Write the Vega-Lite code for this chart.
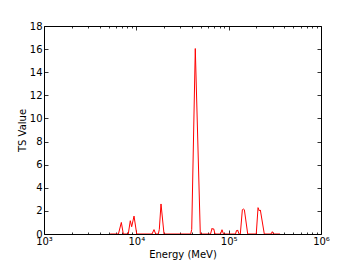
{
  "$schema": "https://vega.github.io/schema/vega-lite/v6.json",
  "width": 277,
  "height": 208,
  "autosize": {"type": "none"},
  "padding": {"left": 44, "top": 26, "right": 36, "bottom": 34},
  "background": "white",
  "config": {
    "view": {"stroke": "black", "strokeWidth": 1},
    "axis": {
      "labelFont": "DejaVu Sans",
      "labelFontSize": 10,
      "labelColor": "black",
      "titleFont": "DejaVu Sans",
      "titleFontSize": 10,
      "titleFontWeight": "normal",
      "titleColor": "black",
      "tickColor": "black",
      "tickWidth": 0.8,
      "domain": false,
      "grid": false
    }
  },
  "data": {
    "values": [
      {"energy": 5200, "ts": 0},
      {"energy": 6400, "ts": 0},
      {"energy": 6880, "ts": 1.0},
      {"energy": 7230, "ts": 0},
      {"energy": 8180, "ts": 0},
      {"energy": 8600, "ts": 1.15},
      {"energy": 8900, "ts": 0.63},
      {"energy": 9440, "ts": 1.55},
      {"energy": 10100, "ts": 0},
      {"energy": 14790, "ts": 0},
      {"energy": 15540, "ts": 0.38},
      {"energy": 16200, "ts": 0},
      {"energy": 17300, "ts": 0},
      {"energy": 17740, "ts": 0.4},
      {"energy": 18500, "ts": 2.6},
      {"energy": 19950, "ts": 0},
      {"energy": 38800, "ts": 0},
      {"energy": 39800, "ts": 0.4},
      {"energy": 43500, "ts": 16.05},
      {"energy": 49300, "ts": 0},
      {"energy": 63600, "ts": 0},
      {"energy": 66100, "ts": 0.5},
      {"energy": 67400, "ts": 0.4},
      {"energy": 68900, "ts": 0.45},
      {"energy": 71100, "ts": 0},
      {"energy": 81600, "ts": 0},
      {"energy": 84700, "ts": 0.37},
      {"energy": 87900, "ts": 0},
      {"energy": 118700, "ts": 0},
      {"energy": 121500, "ts": 0.3},
      {"energy": 123000, "ts": 0.25},
      {"energy": 125000, "ts": 0.35},
      {"energy": 129500, "ts": 0},
      {"energy": 133700, "ts": 0},
      {"energy": 140700, "ts": 2.1},
      {"energy": 144300, "ts": 2.16},
      {"energy": 147900, "ts": 2.1},
      {"energy": 160800, "ts": 0},
      {"energy": 199000, "ts": 0},
      {"energy": 208000, "ts": 2.28},
      {"energy": 214900, "ts": 1.99},
      {"energy": 220300, "ts": 2.08},
      {"energy": 243200, "ts": 0},
      {"energy": 287600, "ts": 0},
      {"energy": 297000, "ts": 0.2},
      {"energy": 306000, "ts": 0},
      {"energy": 360000, "ts": 0}
    ]
  },
  "layer": [
    {
      "mark": {"type": "line", "color": "#ff0000", "strokeWidth": 1, "clip": true},
      "encoding": {
        "x": {
          "field": "energy",
          "type": "quantitative",
          "scale": {"type": "log", "domain": [1000, 1000000]},
          "axis": {
            "orient": "bottom",
            "title": "Energy (MeV)",
            "values": [1000, 2000, 3000, 4000, 5000, 6000, 7000, 8000, 9000, 10000, 20000, 30000, 40000, 50000, 60000, 70000, 80000, 90000, 100000, 200000, 300000, 400000, 500000, 600000, 700000, 800000, 900000, 1000000],
            "labelExpr": "datum.value == 1000 ? '10³' : datum.value == 10000 ? '10⁴' : datum.value == 100000 ? '10⁵' : datum.value == 1000000 ? '10⁶' : ''",
            "tickSize": {"condition": {"test": "indexof([1000,10000,100000,1000000], datum.value) >= 0", "value": -4}, "value": -2},
            "labelPadding": 6,
            "labelFlush": false,
            "labelOverlap": false,
            "titlePadding": 1
          }
        },
        "y": {
          "field": "ts",
          "type": "quantitative",
          "scale": {"domain": [0, 18]},
          "axis": {
            "orient": "left",
            "title": "TS Value",
            "values": [0, 2, 4, 6, 8, 10, 12, 14, 16, 18],
            "tickSize": -4,
            "labelPadding": 6,
            "titlePadding": 2
          }
        }
      }
    },
    {
      "mark": {"type": "line", "strokeOpacity": 0},
      "encoding": {
        "x": {
          "field": "energy",
          "type": "quantitative",
          "scale": {"type": "log", "domain": [1000, 1000000]},
          "axis": {
            "orient": "top",
            "title": null,
            "labels": false,
            "values": [1000, 2000, 3000, 4000, 5000, 6000, 7000, 8000, 9000, 10000, 20000, 30000, 40000, 50000, 60000, 70000, 80000, 90000, 100000, 200000, 300000, 400000, 500000, 600000, 700000, 800000, 900000, 1000000],
            "tickSize": {"condition": {"test": "indexof([1000,10000,100000,1000000], datum.value) >= 0", "value": -4}, "value": -2}
          }
        },
        "y": {
          "field": "ts",
          "type": "quantitative",
          "scale": {"domain": [0, 18]},
          "axis": {
            "orient": "right",
            "title": null,
            "labels": false,
            "values": [0, 2, 4, 6, 8, 10, 12, 14, 16, 18],
            "tickSize": -4
          }
        }
      }
    }
  ]
}
